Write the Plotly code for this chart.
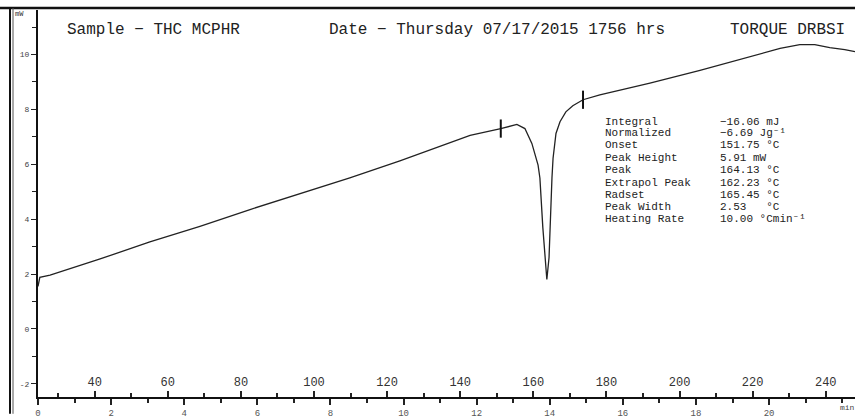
import plotly.graph_objects as go

# ---- data ----
time_min = [0.0, 0.05, 0.33, 1.7, 3.06, 4.43, 5.8, 7.17, 8.53, 9.9, 11.0, 11.82, 12.66,
            13.1, 13.32, 13.51, 13.68, 13.73, 13.81, 13.87, 13.92, 13.98, 14.03, 14.06,
            14.09, 14.17, 14.28, 14.44, 14.63, 14.91, 15.37, 16.74, 18.11, 19.47, 20.3,
            20.84, 21.25, 21.66, 22.07, 22.35]
heat_flow_mw = [1.55, 1.88, 1.96, 2.55, 3.17, 3.74, 4.35, 4.93, 5.50, 6.12, 6.65, 7.05, 7.30,
                7.45, 7.30, 6.76, 5.97, 5.50, 3.70, 2.60, 1.80, 2.60, 4.78, 5.50,
                6.22, 7.12, 7.55, 7.91, 8.13, 8.35, 8.53, 8.96, 9.42, 9.93, 10.22,
                10.36, 10.36, 10.25, 10.18, 10.10]

marker_t = [12.66, 14.91]
marker_v = [7.30, 8.35]

y_ticks = [-2, 0, 2, 4, 6, 8, 10]
y_tick_text = ["-2", "0", "2", "4", "6", "8", "10"]
min_ticks = [0, 2, 4, 6, 8, 10, 12, 14, 16, 18, 20]
temp_ticks = [40, 60, 80, 100, 120, 140, 160, 180, 200, 220, 240]

header_sample = "Sample − THC MCPHR"
header_date = "Date − Thursday 07/17/2015 1756 hrs"
header_inst = "TORQUE DRBSI"

table_labels = ["Integral", "Normalized", "Onset", "Peak Height", "Peak",
                "Extrapol Peak", "Radset", "Peak Width", "Heating Rate"]
table_values = ["−16.06 mJ", "−6.69 Jg⁻¹", "151.75 °C", "5.91 mW",
                "164.13 °C", "162.23 °C", "165.45 °C",
                "2.53   °C", "10.00 °Cmin⁻¹"]

T_START = 24.5   # temperature at time 0 (°C)
RATE = 10.0      # heating rate (°C/min)

# ---- geometry ----
W, H = 855, 419
ML, MR, MT, MB = 38, 0, 10, 17
PW, PH = W - ML - MR, H - MT - MB
X_MAX = 22.35
Y_MIN, Y_MAX = -2.48, 11.62

def px(x):
    return (x - ML) / PW

def py(y):
    return (H - MB - y) / PH

MONO = "Liberation Mono, Courier New, monospace"

fig = go.Figure()
fig.add_trace(go.Scatter(x=time_min, y=heat_flow_mw, mode="lines",
                         line=dict(color="#222", width=1.3), showlegend=False,
                         hoverinfo="skip"))
fig.add_trace(go.Scatter(x=marker_t, y=marker_v, mode="markers",
                         marker=dict(symbol="line-ns-open", size=13, color="#111",
                                     line=dict(color="#111", width=2)),
                         showlegend=False, hoverinfo="skip"))
# dummy trace for temperature axis
fig.add_trace(go.Scatter(x=[T_START, T_START + RATE * X_MAX], y=[None, None],
                         xaxis="x2", mode="lines", showlegend=False, hoverinfo="skip"))

fig.update_layout(
    width=W, height=H,
    margin=dict(l=ML, r=MR, t=MT, b=MB),
    paper_bgcolor="white", plot_bgcolor="white",
    font=dict(family=MONO, color="#222"),
    xaxis=dict(range=[0, X_MAX], tickvals=min_ticks, showgrid=False, zeroline=False,
               showline=True, linecolor="#111", linewidth=1.5,
               ticks="outside", ticklen=6, tickcolor="#222", tickwidth=1.5,
               minor=dict(dtick=1, ticks="outside", ticklen=4, tickcolor="#222"),
               tickfont=dict(size=9, color="#555", family=MONO)),
    xaxis2=dict(range=[T_START, T_START + RATE * X_MAX], overlaying="x", anchor="free",
                position=0, side="top", tickvals=temp_ticks, showgrid=False,
                zeroline=False, showline=False,
                ticks="outside", ticklen=6, tickcolor="#222", tickwidth=1.5,
                minor=dict(dtick=10, ticks="outside", ticklen=4, tickcolor="#222"),
                tickfont=dict(size=12, color="#333", family=MONO)),
    yaxis=dict(range=[Y_MIN, Y_MAX], tickvals=y_ticks, ticktext=y_tick_text,
               showgrid=False, zeroline=False, showline=True, linecolor="#111",
               linewidth=2, ticks="outside", ticklen=5, tickcolor="#222",
               minor=dict(dtick=1, ticks="outside", ticklen=4, tickcolor="#222"),
               tickfont=dict(size=8, color="#444", family=MONO)),
)

ann = []
ann.append(dict(x=px(13), y=py(14), xref="paper", yref="paper", text="mW",
                showarrow=False, xanchor="left", yanchor="middle",
                font=dict(size=7, family=MONO, color="#333")))
for x0, txt in [(65, header_sample), (327, header_date), (728, header_inst)]:
    ann.append(dict(x=px(x0), y=py(30), xref="paper", yref="paper", text=txt,
                    showarrow=False, xanchor="left", yanchor="middle",
                    font=dict(size=16, family=MONO, color="#222")))
row_y = [123, 135, 147, 160, 172, 185, 197, 210, 222]
for yy, lab, val in zip(row_y, table_labels, table_values):
    ann.append(dict(x=px(603), y=py(yy), xref="paper", yref="paper", text=lab,
                    showarrow=False, xanchor="left", yanchor="middle",
                    font=dict(size=11, family=MONO, color="#222")))
    ann.append(dict(x=px(718), y=py(yy), xref="paper", yref="paper", text=val,
                    showarrow=False, xanchor="left", yanchor="middle",
                    font=dict(size=11, family=MONO, color="#222")))
ann.append(dict(x=px(838), y=py(413), xref="paper", yref="paper", text="min",
                showarrow=False, xanchor="left", yanchor="middle",
                font=dict(size=8, family=MONO, color="#444")))
fig.update_layout(annotations=ann)

shapes = [
    dict(type="line", xref="paper", yref="paper", x0=px(0), x1=px(W), y0=py(8), y1=py(8),
         line=dict(color="#111", width=2.5)),
    dict(type="line", xref="paper", yref="paper", x0=px(10), x1=px(10), y0=py(8), y1=py(H),
         line=dict(color="#111", width=2)),
    dict(type="line", xref="paper", yref="paper", x0=px(13), x1=px(13), y0=py(8), y1=py(H),
         line=dict(color="#555", width=1)),
]
fig.update_layout(shapes=shapes)

fig.write_html("out.html")
